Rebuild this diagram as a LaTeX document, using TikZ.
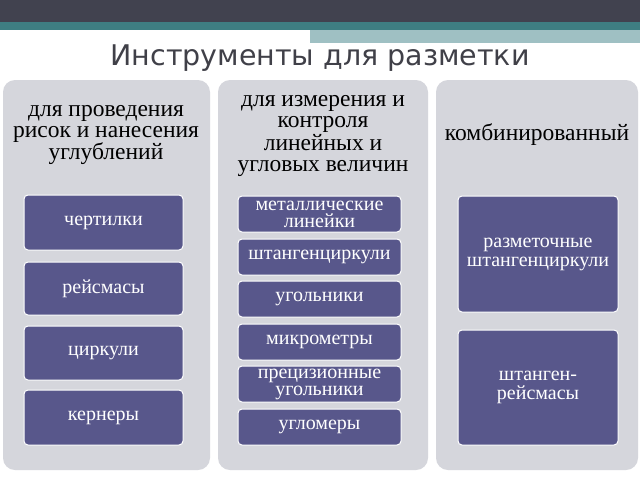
\documentclass[tikz,border=0pt]{standalone}
\usepackage{fontspec}
\setmainfont{Liberation Serif}
\newfontfamily\titlefont{DejaVu Sans}
\definecolor{bardark}{HTML}{41424F}
\definecolor{barteal}{HTML}{3E7E82}
\definecolor{barlight}{HTML}{9FC0C3}
\definecolor{colbg}{HTML}{D5D6DC}
\definecolor{boxfill}{HTML}{58578B}
\definecolor{titlegray}{HTML}{404048}
\begin{document}
\begin{tikzpicture}[x=1pt,y=-1pt,
  column/.style={fill=colbg,rounded corners=12pt},
  head/.style={align=center,font=\fontsize{23.5}{21}\selectfont,text=black},
  item/.style={draw=white,line width=1pt,fill=boxfill,rounded corners=4pt,text=white,align=center,font=\fontsize{20}{17}\selectfont,inner sep=0pt}]
\useasboundingbox (0,0) rectangle (640,480);
\fill[white] (0,0) rectangle (640,480);
\fill[bardark] (0,0) rectangle (640,22);
\fill[barteal] (0,22) rectangle (640,30);
\fill[barlight] (310,30) rectangle (640,43);
\node[font=\titlefont\fontsize{28.5}{28}\selectfont,text=titlegray] (title) at (320,58) {Инструменты для разметки};
\fill[column] (3,80) rectangle (210,470);
\fill[column] (218,80) rectangle (428,470);
\fill[column] (436,80) rectangle (638,470);
\node[head] (h1) at (106,135) {для проведения\\рисок и нанесения\\углублений};
\node[head] (h2) at (323,136) {для измерения и\\контроля\\линейных и\\угловых величин};
\node[head] (h3) at (537,135) {комбинированный};
\foreach \n/\t/\b/\s in {a1/195/250/чертилки,a2/262/315/рейсмасы,a3/326/380/циркули,a4/390/445/кернеры}
  \node[item,minimum width=159pt,minimum height=\b-\t] (\n) at (103.5,{(\t+\b)/2}) {\s};
\foreach \n/\t/\b/\s in {b1/196/232/{металлические\\линейки},b2/239/275/штангенциркули,b3/281/317/угольники,b4/324/360/микрометры,b5/366/402/{прецизионные\\угольники},b6/409/445/угломеры}
  \node[item,minimum width=163pt,minimum height=\b-\t] (\n) at (319.5,{(\t+\b)/2}) {\s};
\node[item,minimum width=160pt,minimum height=116pt,font=\fontsize{20}{19}\selectfont] (c1) at (538,254) {разметочные\\штангенциркули};
\node[item,minimum width=160pt,minimum height=115pt,font=\fontsize{20}{19}\selectfont] (c2) at (538,387.5) {штанген-\\рейсмасы};
\end{tikzpicture}
\end{document}
